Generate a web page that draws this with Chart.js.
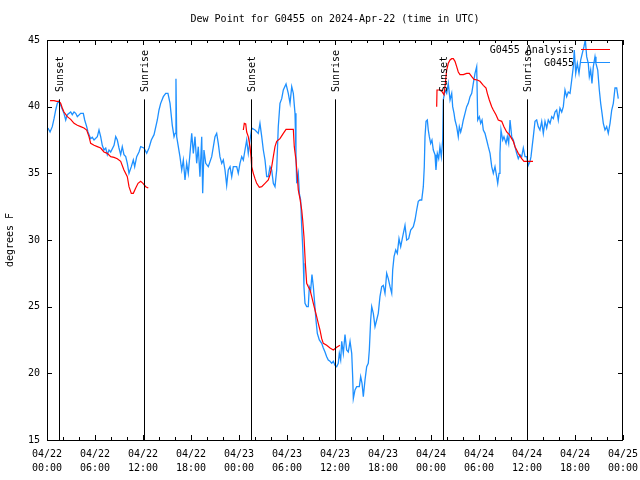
<!DOCTYPE html>
<html>
<head>
<meta charset="utf-8">
<script src="https://cdn.jsdelivr.net/npm/chart.js@4"></script>
<style>
  html, body { margin: 0; padding: 0; background: #fff; }
  canvas { display: block; }
</style>
</head>
<body>
<canvas id="dewChart" width="640" height="480"></canvas>
<script>
// hours since 2024-04-22 00:00 UTC
const stationHours = [
  0.12, 0.38, 0.66, 0.88, 1.09, 1.29, 1.5, 1.71, 2.12, 2.34, 2.54, 2.96, 3.16, 3.38, 3.59, 3.79,
  4.21, 4.54, 4.71, 4.96, 5.12, 5.46, 5.66, 5.88, 6.29, 6.5, 6.71, 6.91, 7.12, 7.34, 7.54, 7.75,
  7.96, 8.38, 8.59, 8.79, 9.0, 9.21, 9.41, 9.62, 9.84, 10.04, 10.25, 10.54, 10.79, 10.96, 11.21, 11.5,
  11.71, 12.12, 12.46, 12.75, 13.04, 13.38, 13.79, 14.0, 14.21, 14.54, 14.84, 15.12, 15.38, 15.66, 15.88, 16.02,
  16.12, 16.21, 16.62, 16.84, 17.04, 17.25, 17.46, 17.66, 18.09, 18.29, 18.5, 18.71, 18.91, 19.12, 19.34, 19.46,
  19.62, 19.84, 20.16, 20.59, 21.0, 21.21, 21.41, 21.62, 21.84, 22.04, 22.25, 22.46, 22.66, 22.88, 23.09, 23.29,
  23.71, 23.91, 24.12, 24.34, 24.54, 24.75, 24.96, 25.16, 25.38, 25.59, 26.0, 26.41, 26.62, 26.84, 27.04, 27.25,
  27.46, 27.66, 27.88, 28.09, 28.29, 28.5, 28.71, 28.91, 29.12, 29.34, 29.54, 29.88, 30.16, 30.38, 30.59, 30.79,
  31.0, 31.12, 31.21, 31.41, 31.54, 31.71, 31.84, 31.96, 32.04, 32.12, 32.25, 32.46, 32.66, 32.79, 32.96, 33.12,
  33.29, 33.46, 33.62, 33.79, 34.04, 34.34, 34.54, 34.75, 34.96, 35.16, 35.38, 35.59, 35.79, 36.0, 36.21, 36.41,
  36.54, 36.71, 36.84, 37.04, 37.25, 37.46, 37.66, 37.88, 38.09, 38.21, 38.29, 38.5, 38.71, 39.04, 39.21, 39.38,
  39.54, 39.75, 39.96, 40.16, 40.29, 40.46, 40.59, 40.79, 41.0, 41.21, 41.41, 41.62, 41.84, 42.04, 42.25, 42.46,
  42.66, 42.88, 43.09, 43.21, 43.38, 43.59, 43.79, 44.0, 44.21, 44.46, 44.75, 44.96, 45.21, 45.46, 45.79, 46.0,
  46.21, 46.41, 46.62, 46.84, 47.04, 47.16, 47.25, 47.38, 47.54, 47.66, 47.79, 47.96, 48.12, 48.29, 48.5, 48.62,
  48.79, 48.96, 49.12, 49.29, 49.46, 49.54, 49.75, 49.96, 50.16, 50.38, 50.59, 50.71, 50.88, 51.0, 51.21, 51.41,
  51.54, 51.71, 51.88, 52.04, 52.25, 52.46, 52.66, 52.88, 53.09, 53.29, 53.5, 53.71, 53.84, 54.04, 54.21, 54.38,
  54.54, 54.75, 54.96, 55.16, 55.38, 55.59, 55.79, 56.0, 56.21, 56.34, 56.5, 56.62, 56.75, 56.96, 57.12, 57.38,
  57.54, 57.71, 57.88, 58.09, 58.29, 58.5, 58.71, 58.91, 59.12, 59.34, 59.54, 59.75, 59.96, 60.16, 60.38, 60.5,
  60.66, 60.79, 61.0, 61.21, 61.41, 61.62, 61.84, 62.04, 62.25, 62.46, 62.66, 62.88, 63.09, 63.29, 63.5, 63.71,
  63.91, 64.12, 64.34, 64.54, 64.75, 64.96, 65.16, 65.38, 65.59, 65.79, 65.91, 66.09, 66.29, 66.5, 66.71, 66.91,
  67.12, 67.29, 67.46, 67.66, 67.79, 67.96, 68.12, 68.29, 68.5, 68.62, 68.84, 69.04, 69.21, 69.38, 69.54, 69.75,
  69.96, 70.16, 70.38, 70.59, 70.79, 71.0, 71.21, 71.41
];
const stationDew = [
  38.4, 38.1, 38.5, 39.1, 39.75, 40.25, 40.4, 40.1, 39.5, 39.0, 39.4, 39.6, 39.4, 39.6, 39.5, 39.25,
  39.5, 39.5, 39.0, 38.5, 38.1, 37.6, 37.7, 37.5, 37.75, 38.25, 37.75, 37.1, 36.75, 36.9, 36.4, 36.75,
  36.6, 37.1, 37.75, 37.5, 36.9, 36.4, 37.0, 36.4, 36.25, 35.75, 35.0, 35.5, 36.0, 35.5, 36.25, 36.6,
  37.0, 36.9, 36.5, 36.9, 37.5, 37.9, 39.0, 39.75, 40.25, 40.75, 41.0, 41.0, 40.25, 38.6, 37.75, 38.0,
  42.1, 37.75, 36.25, 35.25, 36.0, 34.5, 35.75, 35.0, 38.0, 36.5, 37.75, 35.75, 37.0, 34.75, 37.75, 33.5,
  36.75, 35.75, 35.5, 36.25, 37.75, 38.0, 37.25, 36.25, 35.75, 36.0, 35.25, 34.1, 35.25, 35.5, 34.75, 35.5,
  35.5, 35.0, 35.75, 36.25, 36.0, 36.75, 37.5, 36.5, 37.5, 38.4, 38.25, 38.0, 38.75, 37.75, 36.75, 36.0,
  34.75, 34.75, 35.5, 35.25, 34.25, 34.0, 35.25, 38.5, 40.25, 40.6, 41.25, 41.7, 41.0, 40.25, 41.5, 41.0,
  39.5, 36.5, 34.25, 35.0, 33.5, 33.0, 31.0, 29.5, 28.25, 26.5, 25.25, 25.0, 25.0, 26.5, 26.25, 27.4,
  26.5, 25.25, 24.0, 23.0, 22.5, 22.25, 21.9, 21.6, 21.25, 21.0, 20.9, 20.75, 20.9, 20.6, 20.5, 20.75,
  21.5, 21.0, 22.4, 21.5, 22.9, 21.75, 21.6, 22.4, 21.5, 19.75, 18.1, 18.75, 19.0, 19.0, 19.75, 19.25,
  18.25, 19.5, 20.5, 20.75, 21.75, 24.0, 25.0, 24.5, 23.5, 24.0, 24.5, 25.75, 26.5, 26.6, 26.0, 27.5,
  27.1, 26.5, 26.0, 27.75, 28.75, 29.25, 29.0, 30.1, 29.5, 30.25, 31.1, 30.0, 30.1, 30.75, 31.0, 31.5,
  32.25, 32.9, 33.0, 33.0, 34.0, 35.5, 37.75, 38.9, 39.0, 38.25, 37.75, 37.25, 37.5, 36.75, 36.4, 35.25,
  36.5, 36.1, 37.0, 36.25, 37.5, 40.5, 41.25, 41.0, 41.75, 40.5, 41.0, 40.0, 39.5, 39.0, 38.5, 37.75,
  38.5, 38.1, 38.5, 39.0, 39.5, 40.0, 40.25, 40.75, 41.0, 41.75, 42.5, 43.0, 39.0, 39.25, 38.75, 39.0,
  38.25, 38.0, 37.5, 37.0, 36.5, 35.5, 35.0, 35.5, 34.75, 34.25, 35.0, 36.5, 38.25, 37.5, 37.75, 37.25,
  37.75, 37.25, 39.0, 37.75, 37.5, 37.0, 36.5, 36.1, 36.4, 36.25, 36.9, 36.25, 36.25, 35.6, 35.9, 36.25,
  37.1, 37.75, 38.9, 39.0, 38.5, 38.25, 38.9, 38.0, 38.9, 38.4, 39.0, 38.75, 39.25, 39.1, 39.6, 39.75,
  39.0, 39.9, 39.6, 40.0, 41.25, 40.75, 41.1, 41.0, 42.0, 43.0, 44.25, 42.5, 43.25, 42.5, 43.5, 44.0,
  44.5, 45.0, 43.75, 43.25, 42.25, 42.75, 41.75, 43.0, 43.75, 43.25, 42.75, 41.25, 40.25, 39.5, 38.75, 38.25,
  38.5, 38.0, 38.75, 39.75, 40.25, 41.4, 41.4, 40.6
];

// analysis series, null marks the gaps between runs
const analysisHours = [
  0.38, 0.88, 1.21, 1.5, 1.71, 1.91, 2.12, 2.54, 2.96, 3.38, 3.79, 4.21, 4.62, 4.96, 5.25, 5.46,
  5.88, 6.29, 6.71, 7.12, 7.54, 7.96, 8.38, 8.79, 9.21, 9.62, 10.04, 10.25, 10.54, 10.79, 11.09, 11.38,
  11.71, 12.0, 12.34, 12.66,
  18.0,
  24.54, 24.66, 24.84, 24.96, 25.16, 25.38, 25.5, 25.59, 25.79, 26.0, 26.21, 26.54, 26.84, 27.25, 27.66, 27.88,
  28.09, 28.29, 28.5, 28.71, 29.12, 29.54, 29.88, 30.38, 30.79, 30.91, 31.12, 31.29, 31.41, 31.62, 31.84, 31.96,
  32.12, 32.29, 32.46, 32.66, 32.88, 33.09, 33.29, 33.5, 33.71, 33.91, 34.12, 34.34, 34.54, 34.96, 35.38, 35.79,
  36.21, 36.62,
  42.0,
  48.71, 48.75, 49.25, 49.62, 49.75, 49.96, 50.16, 50.38, 50.59, 50.79, 51.0, 51.21, 51.41, 51.62, 52.04, 52.46,
  52.79, 53.09, 53.38, 53.79, 54.12, 54.54, 54.88, 55.04, 55.29, 55.59, 55.79, 56.12, 56.41, 56.84, 57.12, 57.46,
  57.79, 58.09, 58.29, 58.5, 58.71, 58.91, 59.34, 59.62, 60.75
];
const analysisDew = [
  40.45, 40.45, 40.4, 40.4, 40.25, 39.9, 39.6, 39.25, 39.05, 38.75, 38.6, 38.5, 38.4, 38.25, 37.75, 37.25,
  37.1, 37.0, 36.9, 36.6, 36.5, 36.25, 36.2, 36.1, 35.9, 35.25, 34.75, 34.0, 33.5, 33.5, 33.9, 34.25,
  34.4, 34.25, 34.0, 33.9,
  null,
  38.25, 38.75, 38.7, 38.1, 37.75, 37.0, 36.25, 35.5, 35.0, 34.6, 34.25, 33.95, 34.0, 34.25, 34.5, 34.9,
  35.5, 36.25, 37.0, 37.4, 37.6, 38.0, 38.3, 38.3, 38.3, 37.0, 36.0, 34.75, 33.75, 33.1, 32.25, 31.5,
  30.25, 28.25, 26.75, 26.5, 26.25, 25.75, 25.25, 24.75, 24.25, 23.75, 23.25, 22.6, 22.25, 22.1, 21.9, 21.75,
  21.95, 22.1,
  null,
  40.0, 41.25, 41.25, 40.9, 41.5, 42.75, 43.25, 43.5, 43.6, 43.6, 43.4, 43.0, 42.6, 42.4, 42.4, 42.5,
  42.5, 42.25, 42.05, 42.0, 41.9, 41.6, 41.4, 41.0, 40.5, 40.0, 39.75, 39.4, 39.0, 38.9, 38.5, 38.1,
  37.9, 37.6, 37.4, 37.0, 36.75, 36.5, 36.1, 35.9, 35.9
];

const sunHours = [1.55, 12.15, 25.5, 36.05, 49.55, 60.05];
const sunLabels = ['Sunset', 'Sunrise', 'Sunset', 'Sunrise', 'Sunset', 'Sunrise'];

const tickDates = ['04/22', '04/22', '04/22', '04/22', '04/23', '04/23', '04/23', '04/23', '04/24', '04/24', '04/24', '04/24', '04/25'];
const tickTimes = ['00:00', '06:00', '12:00', '18:00', '00:00', '06:00', '12:00', '18:00', '00:00', '06:00', '12:00', '18:00', '00:00'];

const MONO = '"DejaVu Sans Mono", "Liberation Mono", monospace';
const BLUE = '#1e90ff';
const RED = '#ff0000';

function toPoints(xs, ys) {
    return xs.map((h, i) => ({ x: h, y: ys[i] }));
}

// frame, inward ticks, sun markers and the legend in the upper right
const overlay = {
    id: 'overlay',
    afterDatasetsDraw(chart) {
        const { ctx, chartArea: a, scales: { x, y } } = chart;
        ctx.save();
        ctx.strokeStyle = '#000';
        ctx.lineWidth = 1;

        ctx.strokeRect(a.left + 0.5, a.top + 0.5, a.right - a.left - 1, a.bottom - a.top);

        for (let h = 0; h <= 72; h += 2) {
            const px = Math.round(x.getPixelForValue(h)) + 0.5;
            const len = h % 6 === 0 ? 5 : 3;
            ctx.beginPath();
            ctx.moveTo(px, a.bottom);
            ctx.lineTo(px, a.bottom - len);
            ctx.moveTo(px, a.top);
            ctx.lineTo(px, a.top + len);
            ctx.stroke();
        }
        for (let v = 15; v <= 45; v += 5) {
            const py = Math.round(y.getPixelForValue(v)) + 0.5;
            ctx.beginPath();
            ctx.moveTo(a.left, py);
            ctx.lineTo(a.left + 5, py);
            ctx.moveTo(a.right, py);
            ctx.lineTo(a.right - 5, py);
            ctx.stroke();
        }

        ctx.font = '10px ' + MONO;
        ctx.fillStyle = '#000';
        sunHours.forEach((h, i) => {
            const px = Math.round(x.getPixelForValue(h)) + 0.5;
            ctx.beginPath();
            ctx.moveTo(px, y.getPixelForValue(40.55));
            ctx.lineTo(px, a.bottom);
            ctx.stroke();
            ctx.save();
            ctx.translate(px + 1, y.getPixelForValue(41.1));
            ctx.rotate(-Math.PI / 2);
            ctx.textAlign = 'left';
            ctx.textBaseline = 'middle';
            ctx.fillText(sunLabels[i], 0, 0);
            ctx.restore();
        });

        // legend
        const items = [
            { text: 'G0455 Analysis', color: RED, dy: 10 },
            { text: 'G0455', color: BLUE, dy: 23 }
        ];
        ctx.textAlign = 'right';
        ctx.textBaseline = 'middle';
        items.forEach(it => {
            const ty = a.top + it.dy;
            ctx.fillStyle = '#000';
            ctx.fillText(it.text, a.right - 49, ty);
            ctx.strokeStyle = it.color;
            ctx.beginPath();
            ctx.moveTo(a.right - 42, Math.round(ty) - 0.5);
            ctx.lineTo(a.right - 13, Math.round(ty) - 0.5);
            ctx.stroke();
        });
        ctx.restore();
    }
};

const ctx = document.getElementById('dewChart').getContext('2d');
new Chart(ctx, {
    type: 'line',
    data: {
        datasets: [{
            label: 'G0455 Analysis',
            data: toPoints(analysisHours, analysisDew),
            borderColor: RED,
            borderWidth: 1.2,
            pointRadius: 0,
            tension: 0,
            spanGaps: false
        }, {
            label: 'G0455',
            data: toPoints(stationHours, stationDew),
            borderColor: BLUE,
            borderWidth: 1.3,
            pointRadius: 0,
            tension: 0
        }]
    },
    options: {
        responsive: false,
        animation: false,
        layout: { padding: { left: 0, right: 17, top: 0, bottom: 0 } },
        plugins: {
            legend: { display: false },
            tooltip: { enabled: false },
            title: {
                display: true,
                fullSize: false,
                text: 'Dew Point for G0455 on 2024-Apr-22 (time in UTC)',
                color: '#000',
                font: { family: MONO, size: 10, weight: 'normal', lineHeight: 1.2 },
                padding: { top: 13, bottom: 15 }
            }
        },
        scales: {
            x: {
                type: 'linear',
                min: 0,
                max: 72,
                afterFit(scale) {
                    scale.height = 40;
                    scale.paddingLeft = 0;
                    scale.paddingRight = 0;
                },
                afterBuildTicks(scale) {
                    scale.ticks = tickDates.map((d, i) => ({ value: i * 6 }));
                },
                grid: { display: false, drawTicks: false },
                border: { display: false },
                ticks: {
                    autoSkip: false,
                    maxRotation: 0,
                    padding: 7,
                    color: '#000',
                    font: { family: MONO, size: 10, lineHeight: 1.4 },
                    callback: (v) => [tickDates[v / 6], tickTimes[v / 6]]
                }
            },
            y: {
                min: 15,
                max: 45,
                afterFit(scale) {
                    scale.width = 47;
                    scale.paddingTop = 0;
                    scale.paddingBottom = 0;
                },
                grid: { display: false, drawTicks: false },
                border: { display: false },
                ticks: {
                    stepSize: 5,
                    padding: 7,
                    color: '#000',
                    font: { family: MONO, size: 10 }
                },
                title: {
                    display: true,
                    text: 'degrees F',
                    color: '#000',
                    font: { family: MONO, size: 10, lineHeight: 1.2 },
                    padding: { top: 4, bottom: 0 }
                }
            }
        }
    },
    plugins: [overlay]
});
</script>
</body>
</html>
